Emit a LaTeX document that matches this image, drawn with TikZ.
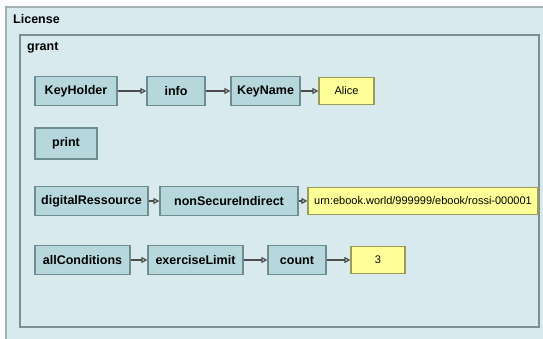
\documentclass[tikz,border=0pt]{standalone}
\usepackage{fontspec}
\setmainfont{Liberation Sans}
\usetikzlibrary{arrows.meta}

\definecolor{licfill}{HTML}{D8EAED}
\definecolor{boxfill}{HTML}{B6D8DC}
\definecolor{boxline}{HTML}{6F8C90}
\definecolor{valfill}{HTML}{FFFF99}
\definecolor{valline}{HTML}{9C9C5A}
\definecolor{frameline}{HTML}{7D8F91}

\begin{document}
\begin{tikzpicture}[x=1pt,y=-1pt,
  elem/.style={draw=boxline, line width=1.2pt, fill=boxfill, minimum height=29pt,
    inner sep=0pt, font=\fontsize{12.5}{14}\selectfont\bfseries},
  val/.style={draw=valline, line width=1.2pt, fill=valfill, minimum height=27pt,
    inner sep=0pt, font=\fontsize{11}{13}\selectfont},
  conn/.style={draw=black!70, line width=1.2pt, -{Triangle[open,length=6pt,width=6pt]}},
  title/.style={anchor=west, inner sep=0pt, font=\fontsize{12.5}{14}\selectfont\bfseries}]

\useasboundingbox[fill=white!92!licfill] (0,0) rectangle (543,339);
\fill[licfill] (6,7) rectangle (543,339);
\draw[frameline!70, line width=1.2pt] (6,339) -- (6,7) -- (543,7);
\draw[frameline, line width=1.6pt] (20,35) rectangle (539,327);
\node[title] (lic) at (13,19) {License};
\node[title] (grant) at (27,48) {grant};

% grant parts
\node[elem, minimum width=82pt] (keyholder) at (76,91) {KeyHolder};
\node[elem, minimum width=58pt] (info) at (176,91) {info};
\node[elem, minimum width=69pt] (keyname) at (265.5,91) {KeyName};
\node[val, minimum width=55pt] (alice) at (346.5,91) {Alice};

\node[elem, minimum width=62pt, minimum height=31pt] (print) at (66,143.5) {print};

\node[elem, minimum width=113pt] (digres) at (91.5,201) {digitalRessource};
\node[elem, minimum width=138pt] (nonsec) at (229,201) {nonSecureIndirect};
\node[val, minimum width=230pt] (urn) at (423,201) {urn:ebook.world/999999/ebook/rossi-000001};

\node[elem, minimum width=95pt] (allcond) at (82.5,260) {allConditions};
\node[elem, minimum width=95pt] (exlimit) at (195.5,260) {exerciseLimit};
\node[elem, minimum width=58pt] (count) at (297,260) {count};
\node[val, minimum width=54pt] (three) at (378,260) {3};

\foreach \from/\to in {keyholder/info,info/keyname,keyname/alice,
    digres/nonsec,nonsec/urn,allcond/exlimit,exlimit/count,count/three}
  \draw[conn] (\from) -- (\to);
\end{tikzpicture}
\end{document}
